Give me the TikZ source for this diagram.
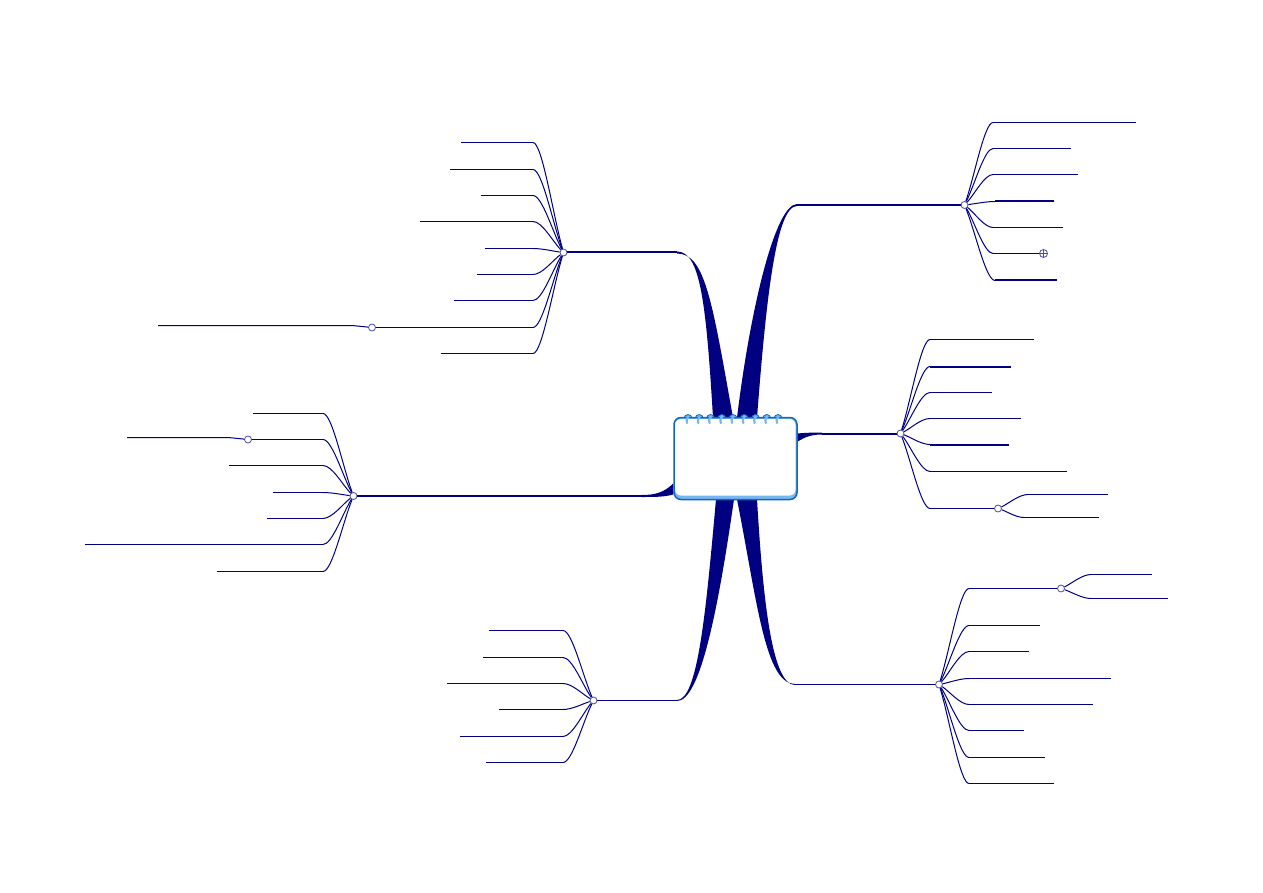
\documentclass[tikz,border=0pt]{standalone}
\usetikzlibrary{calc,backgrounds}

\definecolor{limbblue}{HTML}{000080}
\definecolor{cardblue}{HTML}{1268B8}
\definecolor{ringblue}{HTML}{78B6F2}
\definecolor{foldblue}{HTML}{4C4CA6}

\tikzset{
	limb/.style={fill=limbblue},
	mainline/.style={draw=limbblue,line width=2pt},
	twigline/.style={draw=limbblue,line width=1pt},
	heavy/.style={line width=2pt},
	hub/.style={circle,draw=foldblue,fill=white,line width=0.8pt,inner sep=0pt,minimum size=7pt},
	card/.style={rectangle,rounded corners=7pt,draw=cardblue,line width=1.5pt,inner sep=0pt,minimum width=123pt,minimum height=82pt},
}

% hub, elbow, far end
\newcommand{\twig}[4][]{
	\draw[twigline] (#2) .. controls ($(#2)!0.35!(#3)$) and ($(#3)!0.3!(#3-|#2)$) .. (#3);
	\draw[twigline,#1] (#3) -- (#4);
}

\begin{document}
\begin{tikzpicture}[x=1pt,y=-1pt]
	\useasboundingbox (0,0) rectangle (1263,893);
	\begin{scope}[shift={(0,0.5)}]

	\node[card,fill=ringblue] (root) at (735.5,458) {};
	\fill[white,rounded corners=6pt] (675,418.5) rectangle (795.5,495);

	\begin{pgfonlayer}{background}
	% tapered limbs
	\coordinate (tr) at (797,204.5);
	\coordinate (tl) at (677,252);
	\coordinate (bl) at (677,700);
	\coordinate (br) at (795,684);
	\coordinate (rr) at (822,433);
	\coordinate (ll) at (642,495.5);
	\fill[limb] ($(root.north)+(1.5,1)$) .. controls (750,310) and (775,204) .. ($(tr)+(0,-1)$)
		-- ($(tr)+(0,1)$) .. controls (776,205.5) and (766,300) .. ($(root.north)+(21.5,1)$) -- cycle;
	\fill[limb] ($(root.north)+(-2.5,1)$) .. controls (712,300) and (705,253) .. ($(tl)+(0,1)$)
		-- ($(tl)+(0,-1)$) .. controls (700,251) and (706,300) .. ($(root.north)+(-22.5,1)$) -- cycle;
	\fill[limb] ($(root.south)+(-1.5,-1)$) .. controls (718,610) and (700,700.5) .. ($(bl)+(0,0.5)$)
		-- ($(bl)+(0,-0.5)$) .. controls (698,699.5) and (706,610) .. ($(root.south)+(-19.5,-1)$) -- cycle;
	\fill[limb] ($(root.south)+(1.5,-1)$) .. controls (757,600) and (765,683.5) .. ($(br)+(0,-0.5)$)
		-- ($(br)+(0,0.5)$) .. controls (772,684.5) and (763,600) .. ($(root.south)+(21.5,-1)$) -- cycle;
	\fill[limb] (root.east |- 0,441) .. controls (806,436) and (812,434) .. ($(rr)+(0,1)$)
		-- ($(rr)+(0,-1)$) .. controls (810,432) and (803,432.5) .. (root.east |- 0,433) -- cycle;
	\fill[limb] (root.west |- 0,483) .. controls (664,492) and (655,494.5) .. ($(ll)+(0,-1)$)
		-- ($(ll)+(0,1)$) .. controls (655,496.5) and (664,496.5) .. (root.west |- 0,494) -- cycle;
	% bumps of the spiral binding
	\foreach \x in {688,699.25,...,779}
		\draw[cardblue,fill=ringblue,line width=0.8pt] (\x,418) circle (4pt);
	\end{pgfonlayer}

	\foreach \x in {688,699.25,...,779}
		\draw[ringblue,line width=2.2pt,line cap=round] (\x+0.5,416) .. controls (\x-2,417.5) and (\x-1.5,420) .. (\x-1,422.5);

	\node[hub] (trhub) at (964.5,204.5) {};
	\node[hub] (tlhub) at (563.5,252) {};
	\node[hub] (llhub) at (353.5,495.5) {};
	\node[hub] (blhub) at (593.5,700) {};
	\node[hub] (rrhub) at (900.5,433) {};
	\node[hub] (brhub) at (939,684) {};

	\draw[mainline] (tr) -- (trhub);
	\draw[mainline] (tl) -- (tlhub);
	\draw[mainline] (ll) -- (llhub);
	\draw[twigline] (bl) -- (blhub);
	\draw[mainline] (rr) -- (rrhub);
	\draw[twigline] (br) -- (brhub);

	% upper right
	\foreach \y/\ex/\lx/\w [count=\i] in {122/993/1136/twigline, 148/993/1071/twigline, 174/993/1078/twigline, 201/995/1054/heavy, 227/993/1063/twigline, 280/995/1057/heavy}{
		\coordinate (tre\i) at (\ex,\y);
		\coordinate (trl\i) at (\lx,\y);
		\twig[\w]{trhub}{tre\i}{trl\i}
	}
	\node[hub,minimum size=8pt] (trfold) at (1043.5,253) {};
	\draw[foldblue,line width=0.6pt] (trfold.west) -- (trfold.east) (trfold.north) -- (trfold.south);
	\coordinate (trk) at (993,253);
	\twig{trhub}{trk}{trfold}

	% upper left
	\foreach \y/\lx [count=\i] in {142/461, 169/450, 195/481, 221/420, 248/485, 274/477, 300/454, 353/441}{
		\coordinate (tle\i) at (533,\y);
		\coordinate (tll\i) at (\lx,\y);
		\twig{tlhub}{tle\i}{tll\i}
	}
	\node[hub] (tlfold) at (372,327) {};
	\coordinate (tlk) at (533,327);
	\coordinate (tlend) at (158,325);
	\twig{tlhub}{tlk}{tlfold}
	\draw[twigline] (tlfold) -- (352,325) -- (tlend);

	% left
	\foreach \y/\lx [count=\i] in {413/253, 465/229, 492/273, 518/267, 544/85, 571/217}{
		\coordinate (lle\i) at (323,\y);
		\coordinate (lll\i) at (\lx,\y);
		\twig{llhub}{lle\i}{lll\i}
	}
	\node[hub] (llfold) at (248,439) {};
	\coordinate (llk) at (323,439);
	\coordinate (llend) at (127,437);
	\twig{llhub}{llk}{llfold}
	\draw[twigline] (llfold) -- (228,437) -- (llend);

	% lower left
	\foreach \y/\lx [count=\i] in {630/489, 657/483, 683/447, 709/499, 736/460, 762/486}{
		\coordinate (ble\i) at (563,\y);
		\coordinate (bll\i) at (\lx,\y);
		\twig{blhub}{ble\i}{bll\i}
	}

	% right
	\foreach \y/\lx/\w [count=\i] in {339/1034/twigline, 366/1011/heavy, 392/992/twigline, 418/1021/twigline, 444/1009/heavy, 471/1067/twigline}{
		\coordinate (rre\i) at (930,\y);
		\coordinate (rrl\i) at (\lx,\y);
		\twig[\w]{rrhub}{rre\i}{rrl\i}
	}
	\node[hub] (rrfold) at (998,508) {};
	\coordinate (rrk) at (930,508);
	\twig{rrhub}{rrk}{rrfold}
	\foreach \y/\ex/\lx [count=\i] in {494/1028/1108, 517/1024/1099}{
		\coordinate (rrse\i) at (\ex,\y);
		\coordinate (rrsl\i) at (\lx,\y);
		\twig{rrfold}{rrse\i}{rrsl\i}
	}

	% lower right
	\foreach \y/\lx [count=\i] in {625/1040, 651/1029, 678/1111, 704/1093, 730/1024, 757/1045, 783/1054}{
		\coordinate (bre\i) at (969,\y);
		\coordinate (brl\i) at (\lx,\y);
		\twig{brhub}{bre\i}{brl\i}
	}
	\node[hub] (brfold) at (1061,588) {};
	\coordinate (brk) at (969,588);
	\twig{brhub}{brk}{brfold}
	\foreach \y/\lx [count=\i] in {574/1152, 598/1168}{
		\coordinate (brse\i) at (1091,\y);
		\coordinate (brsl\i) at (\lx,\y);
		\twig{brfold}{brse\i}{brsl\i}
	}
	\end{scope}
\end{tikzpicture}
\end{document}
